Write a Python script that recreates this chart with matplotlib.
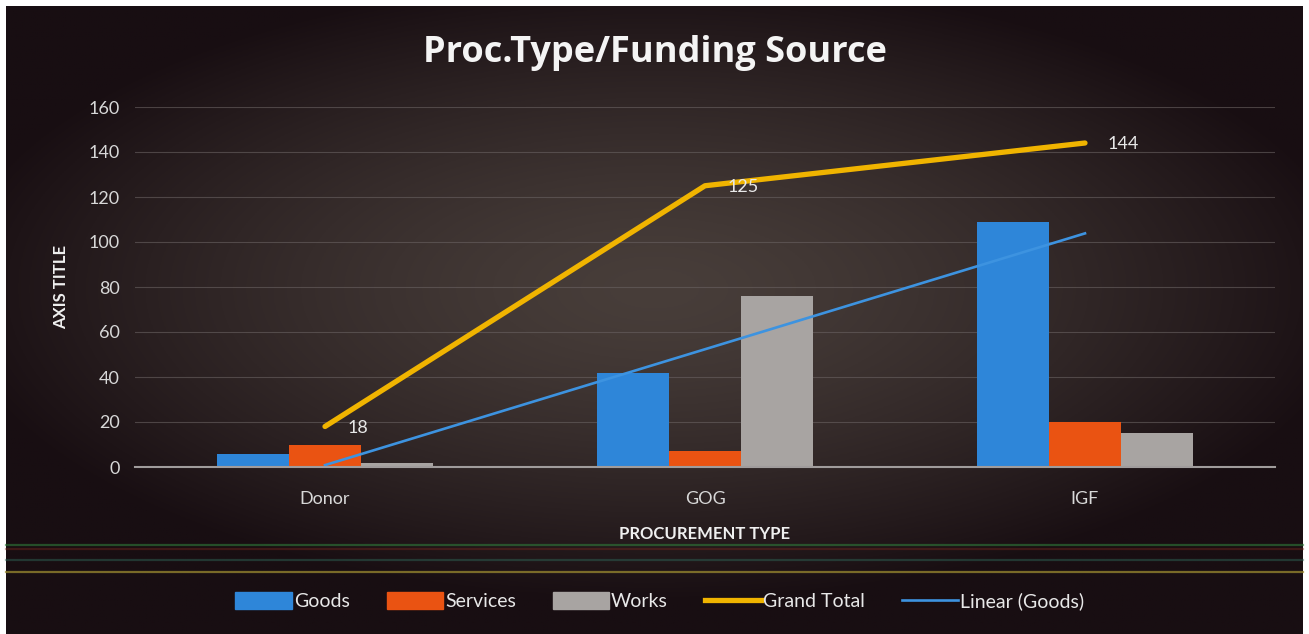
import numpy as np
import matplotlib
matplotlib.use("Agg")
import matplotlib.pyplot as plt
from matplotlib.patches import Patch
from matplotlib.lines import Line2D

plt.rcParams['font.family'] = ['Lato', 'DejaVu Sans']

# data
categories = ["Donor", "GOG", "IGF"]
goods = [6, 42, 109]
services = [10, 7, 20]
works = [2, 76, 15]
grand_total = [18, 125, 144]

W, H = 1309, 634
fig = plt.figure(figsize=(W / 100, H / 100), dpi=100, facecolor="white")

# dark background with a lighter centre, inside a thin white frame
bg = fig.add_axes([6 / W, 0, (1303 - 6) / W, (H - 6) / H], zorder=-5)
yy, xx = np.mgrid[-1:1:300j, -1:1:600j]
r = np.sqrt((xx / 1.1) ** 2 + ((yy + 0.1) / 1.0) ** 2)
t = np.clip(r, 0, 1) ** 1.4
c_in = np.array([72, 62, 58]) / 255
c_out = np.array([24, 14, 18]) / 255
img = c_in[None, None, :] * (1 - t[..., None]) + c_out[None, None, :] * t[..., None]
bg.imshow(img, aspect="auto", extent=[0, 1, 0, 1])
bg.axis("off")

# faint coloured scan lines near the bottom
for ypix, col, a in [(545, "#2f7a3a", 0.6), (549, "#7a2a20", 0.4),
                     (560, "#2f6a5a", 0.45), (572, "#9a8a30", 0.75)]:
    fig.add_artist(Line2D([6 / W, 1303 / W], [1 - ypix / H] * 2, color=col,
                          lw=1.6, alpha=a, transform=fig.transFigure, zorder=-4))

ax = fig.add_axes([135 / W, 167 / H, 1140 / W, 360 / H])
ax.set_facecolor("none")

x = np.arange(len(categories))
w = 0.19
ax.bar(x - w, goods, w, color="#2e86d9", label="Goods", zorder=3)
ax.bar(x, services, w, color="#ea5312", label="Services", zorder=3)
ax.bar(x + w, works, w, color="#a8a4a2", label="Works", zorder=3)

ax.plot(x, grand_total, color="#f0b400", lw=3.8, solid_capstyle="round",
        label="Grand Total", zorder=4)
for xi, v in zip(x, grand_total):
    ax.annotate(str(v), (xi, v), xytext=(16, -1), textcoords="offset points",
                ha="left", va="center", color="#e8e8e8", fontsize=13, zorder=5)

# linear trendline of Goods
k, b = np.polyfit(x + 1, goods, 1)
ax.plot(x, k * (x + 1) + b, color="#3d93e0", lw=1.9, label="Linear (Goods)", zorder=4)

ax.set_xlim(-0.5, 2.5)
ax.set_ylim(0, 160)
ax.set_yticks(range(0, 161, 20))
ax.set_xticks(x)
ax.set_xticklabels(categories)
ax.tick_params(colors="#d8d8d8", labelsize=13, length=0)
ax.tick_params(axis="x", pad=17)
ax.tick_params(axis="y", pad=11)
ax.grid(axis="y", color="#6a6262", lw=0.8, alpha=0.6, zorder=0)
for s in ["top", "right", "left"]:
    ax.spines[s].set_visible(False)
ax.spines["bottom"].set_color("#a09c9c")
ax.spines["bottom"].set_linewidth(1.5)
ax.spines["bottom"].set_zorder(5)

ax.set_ylabel("AXIS TITLE", color="#f0f0f0", fontsize=12, fontweight="bold", labelpad=14)
ax.set_xlabel("PROCUREMENT TYPE", color="#f0f0f0", fontsize=12, fontweight="bold", labelpad=14)

fig.text(655 / W, 1 - 53 / H, "Proc.Type/Funding Source", ha="center", va="center",
         color="#f4f4f4", fontsize=26, fontweight="bold", family=["Open Sans", "DejaVu Sans"])

handles = [Patch(color="#2e86d9"), Patch(color="#ea5312"), Patch(color="#a8a4a2"),
           Line2D([], [], color="#f0b400", lw=3.8), Line2D([], [], color="#3d93e0", lw=1.9)]
labels = ["Goods", "Services", "Works", "Grand Total", "Linear (Goods)"]
fig.legend(handles, labels, loc="center", bbox_to_anchor=(660 / W, 1 - 601 / H),
           ncol=5, frameon=False, fontsize=14, labelcolor="#e8e8e8",
           handlelength=2.9, handleheight=1.0, handletextpad=0.1, columnspacing=1.9)

fig.savefig("out.png", dpi=100, facecolor="white")
